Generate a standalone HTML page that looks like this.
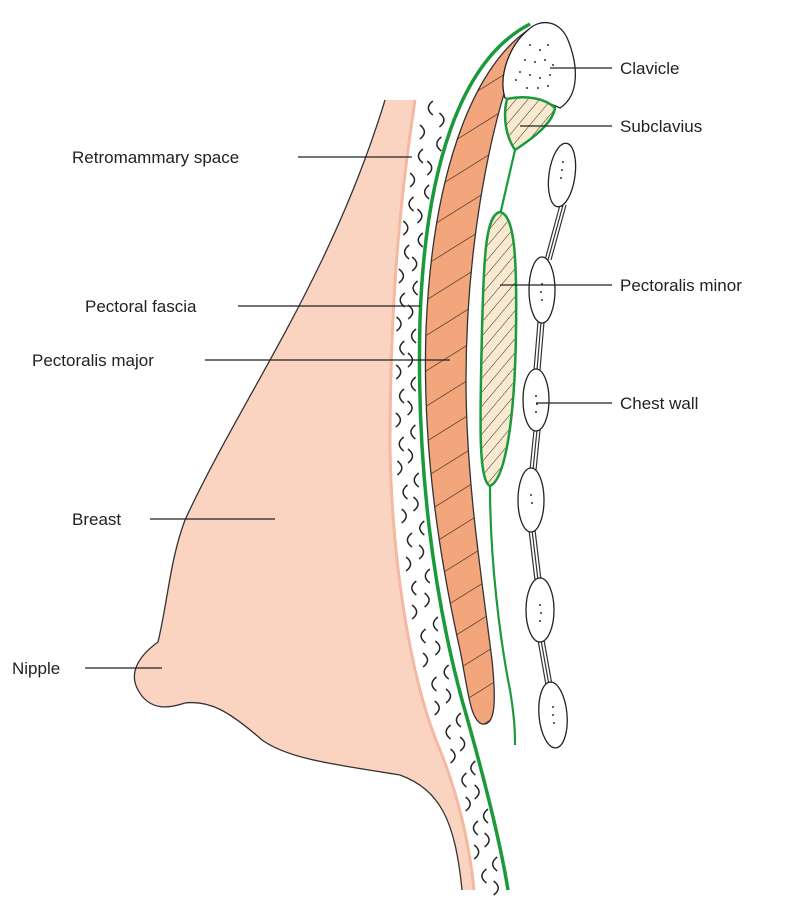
<!DOCTYPE html>
<html><head><meta charset="utf-8"><style>
html,body{margin:0;padding:0;background:#fff}
svg{display:block}
text{font-family:"Liberation Sans",sans-serif;font-size:17px;fill:#222}
</style></head><body>
<svg id="s" width="790" height="905" viewBox="0 0 790 905" xmlns="http://www.w3.org/2000/svg">
<defs>
<pattern id="h1" width="30" height="30" patternUnits="userSpaceOnUse" patternTransform="rotate(58)">
<line x1="0" y1="0" x2="0" y2="30" stroke="#3a2a20" stroke-width="1.3"/></pattern>
<pattern id="h2" width="9" height="9" patternUnits="userSpaceOnUse" patternTransform="rotate(40)">
<rect width="9" height="9" fill="#f8ead0"/><line x1="0" y1="0" x2="0" y2="9" stroke="#3a2a20" stroke-width="1"/></pattern>
</defs>
<path d="M385,100 L415,100 C400,200 390,300 390,450 C392,560 410,680 440,750 C460,800 470,850 474,890 L462,890 C455,820 440,790 400,775 C340,765 290,760 262,740 C230,712 210,700 185,703 C170,708 150,712 138,690 C128,672 140,655 158,642 C168,600 170,560 185,520 C240,400 330,280 385,100 Z" fill="#fbd3c1"/>
<path d="M462,890 C455,820 440,790 400,775 C340,765 290,760 262,740 C230,712 210,700 185,703 C170,708 150,712 138,690 C128,672 140,655 158,642 C168,600 170,560 185,520 C240,400 330,280 385,100" fill="none" stroke="#333" stroke-width="1.3"/>
<path d="M415,100 C400,200 390,300 390,450 C392,560 410,680 440,750 C460,800 470,850 474,890" fill="none" stroke="#f3b9a2" stroke-width="3"/>
<g id="cs" fill="none" stroke="#222" stroke-width="1.5"></g>
<path d="M528,30 C470,70 432,180 426,330 C422,450 440,560 460,650 C468,690 470,720 482,724 C496,726 496,700 492,660 C482,580 466,480 466,380 C466,250 490,110 528,30 Z" fill="#f3a57c" stroke="#333" stroke-width="1.3"/>
<path d="M528,30 C470,70 432,180 426,330 C422,450 440,560 460,650 C468,690 470,720 482,724 C496,726 496,700 492,660 C482,580 466,480 466,380 C466,250 490,110 528,30 Z" fill="url(#h1)"/>
<path d="M530,24 C460,60 425,170 420,320 C416,470 435,600 462,700 C482,770 500,840 508,890" fill="none" stroke="#1a9a3a" stroke-width="3.5"/>
<path d="M528,30 C540,18 560,20 568,40 C578,65 580,95 560,108 C540,98 520,100 505,98 C498,75 510,45 528,30 Z" fill="#fff" stroke="#222" stroke-width="1.3"/>
<g fill="#333"><circle cx="530" cy="45" r="1"/><circle cx="540" cy="50" r="1"/><circle cx="548" cy="45" r="1"/><circle cx="525" cy="60" r="1"/><circle cx="535" cy="62" r="1"/><circle cx="545" cy="60" r="1"/><circle cx="553" cy="65" r="1"/><circle cx="520" cy="72" r="1"/><circle cx="530" cy="75" r="1"/><circle cx="540" cy="78" r="1"/><circle cx="550" cy="75" r="1"/><circle cx="516" cy="80" r="1"/><circle cx="527" cy="88" r="1"/><circle cx="538" cy="88" r="1"/><circle cx="548" cy="86" r="1"/></g>
<path d="M507,99 C525,95 545,98 555,108 C552,125 530,140 515,150 C505,135 503,115 507,99 Z" fill="url(#h2)" stroke="#1a9a3a" stroke-width="2.5"/>
<path d="M515,150 L500,215" stroke="#1a9a3a" stroke-width="2.2" fill="none"/>
<path d="M500,212 C515,215 517,260 516,330 C515,420 505,480 490,486 C478,480 480,420 482,330 C484,260 485,215 500,212 Z" fill="url(#h2)" stroke="#1a9a3a" stroke-width="2.5"/>
<path d="M490,486 C490,560 500,640 510,690 C515,720 515,735 515,745" stroke="#1a9a3a" stroke-width="2.2" fill="none"/>
<g fill="none" stroke="#333" stroke-width="1.2">
<path d="M560,205 L545,260 M566,205 L551,260 M563,205 L548,260"/>
<path d="M538,322 L534,370 M544,322 L540,370 M541,322 L537,370"/>
<path d="M534,430 L530,470 M540,430 L536,470 M537,430 L533,470"/>
<path d="M529,530 L535,580 M535,530 L541,580 M532,530 L538,580"/>
<path d="M538,640 L546,685 M544,640 L552,685 M541,640 L549,685"/>
</g>
<g fill="#fff" stroke="#222" stroke-width="1.3">
<ellipse cx="562" cy="175" rx="13" ry="32" transform="rotate(8 562 175)"/>
<ellipse cx="542" cy="290" rx="13" ry="33"/>
<ellipse cx="536" cy="400" rx="13" ry="31"/>
<ellipse cx="531" cy="500" rx="13" ry="32"/>
<ellipse cx="540" cy="610" rx="14" ry="32"/>
<ellipse cx="553" cy="715" rx="14" ry="33" transform="rotate(-5 553 715)"/>
</g>
<g fill="#333"><circle cx="562" cy="170" r="1"/><circle cx="561" cy="178" r="1"/><circle cx="563" cy="162" r="1"/><circle cx="542" cy="284" r="1"/><circle cx="541" cy="292" r="1"/><circle cx="542" cy="300" r="1"/><circle cx="536" cy="396" r="1"/><circle cx="537" cy="404" r="1"/><circle cx="536" cy="412" r="1"/><circle cx="531" cy="495" r="1"/><circle cx="532" cy="503" r="1"/><circle cx="540" cy="605" r="1"/><circle cx="541" cy="613" r="1"/><circle cx="540" cy="621" r="1"/><circle cx="553" cy="707" r="1"/><circle cx="553" cy="715" r="1"/><circle cx="554" cy="723" r="1"/></g>
<g stroke="#222" stroke-width="1.2">
<line x1="550" y1="68" x2="612" y2="68"/>
<line x1="520" y1="126" x2="612" y2="126"/>
<line x1="500" y1="285" x2="612" y2="285"/>
<line x1="536" y1="403" x2="612" y2="403"/>
<line x1="298" y1="157" x2="412" y2="157"/>
<line x1="238" y1="306" x2="420" y2="306"/>
<line x1="205" y1="360" x2="450" y2="360"/>
<line x1="150" y1="519" x2="275" y2="519"/>
<line x1="85" y1="668" x2="162" y2="668"/>
</g>
<text x="620" y="74">Clavicle</text>
<text x="620" y="132">Subclavius</text>
<text x="620" y="291">Pectoralis minor</text>
<text x="620" y="409">Chest wall</text>
<text x="72" y="163">Retromammary space</text>
<text x="85" y="312">Pectoral fascia</text>
<text x="32" y="366">Pectoralis major</text>
<text x="72" y="525">Breast</text>
<text x="12" y="674">Nipple</text>
</svg>
<script>
function lerp(pts,y){for(var i=0;i<pts.length-1;i++){var a=pts[i],b=pts[i+1];if(y<=b[0]){return a[1]+(b[1]-a[1])*(y-a[0])/(b[0]-a[0]);}}return pts[pts.length-1][1];}
var E=[[100,417],[200,400],[300,392],[450,391],[600,402],[700,425],[800,460],[890,475]];
var G=[[100,462],[200,433],[300,421],[450,420],[600,440],[700,462],[800,490],[890,508]];
var g=document.getElementById('cs'),h='',i=0;
for(var y=108;y<890;y+=24){i++;
 [0.3,0.7].forEach(function(f,k){
  var yy=y+(k?12:0); if(yy>890)return;
  var e=lerp(E,yy),gg=lerp(G,yy),x=e+(gg-e)*f;
  var d=(i+k)%2?'M'+(x+4)+','+(yy-7)+' q-9,7 0,14':'M'+(x-4)+','+(yy-7)+' q9,7 0,14';
  h+='<path d="'+d+'"/>';
 });
}
g.innerHTML=h;
</script>
</body></html>
